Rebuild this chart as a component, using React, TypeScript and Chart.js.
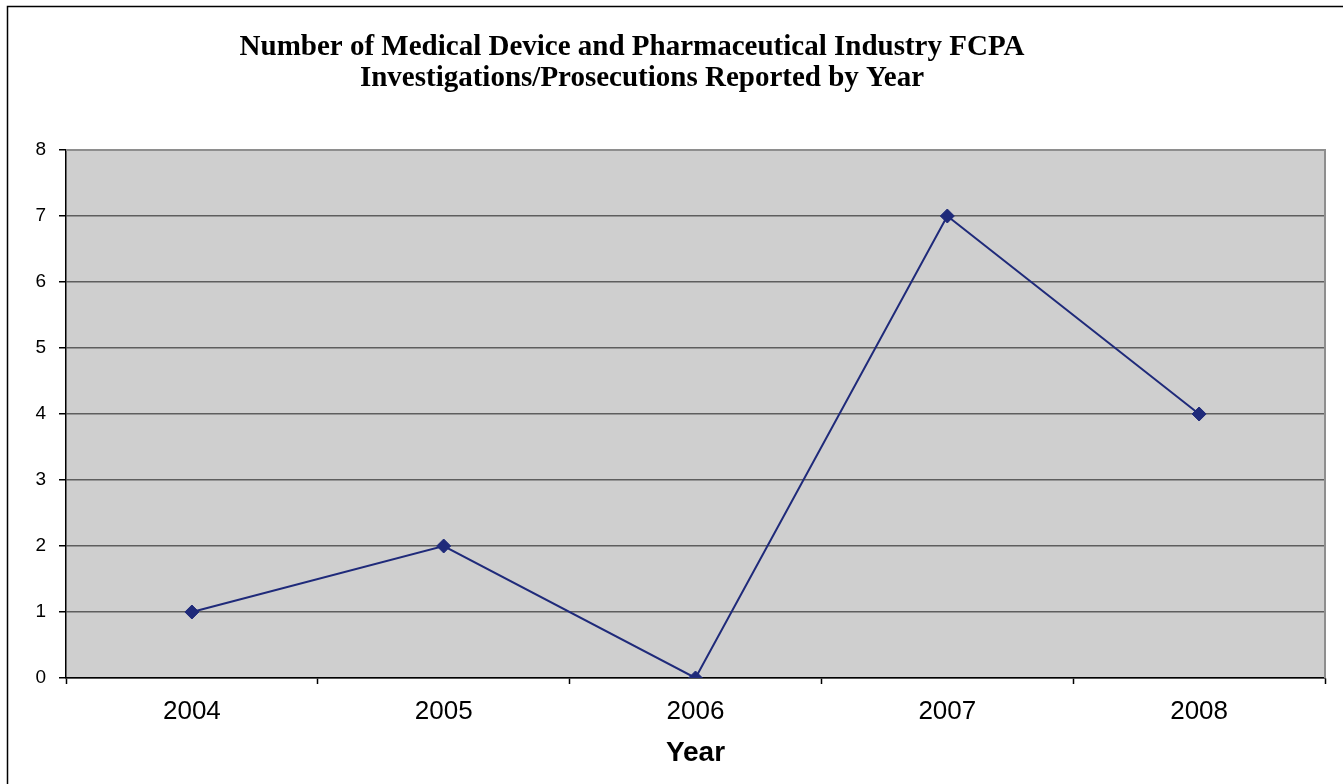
import React, { useEffect, useRef } from 'react';
import { Chart, registerables } from 'chart.js';

Chart.register(...registerables);

const categories: string[] = ['2004', '2005', '2006', '2007', '2008'];
const counts: number[] = [1, 2, 0, 7, 4];
const titleLines: string[] = [
  'Number of Medical Device and Pharmaceutical Industry FCPA',
  'Investigations/Prosecutions Reported by Year',
];
const xAxisTitle = 'Year';
const yMin = 0;
const yMax = 8;
const yStep = 1;

const SANS = '"Liberation Sans", Arial, sans-serif';
const SERIF = '"Liberation Serif", "Times New Roman", serif';

export default function App() {
  const ref = useRef<HTMLCanvasElement>(null);

  useEffect(() => {
    const canvas = ref.current;
    if (!canvas) return;

    const framePlugin = {
      id: 'frame',
      beforeDraw(chart: any) {
        const { ctx, chartArea: a } = chart;
        ctx.save();
        ctx.fillStyle = '#ffffff';
        ctx.fillRect(0, 0, chart.width, chart.height);
        ctx.strokeStyle = '#000000';
        ctx.lineWidth = 1.5;
        ctx.strokeRect(7.5, 6.5, chart.width + 40, chart.height + 40);
        ctx.fillStyle = '#CFCFCF';
        ctx.fillRect(a.left, a.top, a.right - a.left, a.bottom - a.top);
        ctx.restore();
      },
      beforeDatasetsDraw(chart: any) {
        const { ctx, chartArea: a } = chart;
        ctx.save();
        ctx.strokeStyle = '#8E8E8E';
        ctx.lineWidth = 2;
        ctx.beginPath();
        ctx.moveTo(a.left, a.top);
        ctx.lineTo(a.right, a.top);
        ctx.lineTo(a.right, a.bottom);
        ctx.stroke();
        ctx.restore();
      },
      afterDraw(chart: any) {
        const { ctx } = chart;
        ctx.save();
        ctx.fillStyle = '#000000';
        ctx.font = `bold 29px ${SERIF}`;
        ctx.textAlign = 'center';
        ctx.textBaseline = 'alphabetic';
        ctx.fillText(titleLines[0], 632, 55);
        ctx.fillText(titleLines[1], 642, 86);
        ctx.restore();
      },
    };

    const chart = new Chart(canvas, {
      type: 'line',
      data: {
        labels: categories,
        datasets: [
          {
            data: counts,
            borderColor: '#1F2A7A',
            backgroundColor: '#1F2A7A',
            borderWidth: 2,
            tension: 0,
            pointStyle: 'rectRot',
            pointRadius: 7,
            pointBackgroundColor: '#1F2A7A',
            pointBorderColor: '#1F2A7A',
            pointBorderWidth: 1,
            fill: false,
          },
        ],
      },
      options: {
        responsive: false,
        animation: false,
        layout: { padding: { top: 150, right: 18, left: 0, bottom: 0 } },
        plugins: {
          legend: { display: false },
          tooltip: { enabled: false },
          title: { display: false },
        },
        scales: {
          x: {
            type: 'category',
            offset: true,
            grid: {
              offset: true,
              drawOnChartArea: false,
              drawTicks: true,
              tickLength: 6,
              tickColor: '#000000',
              tickWidth: 1.5,
            },
            border: { display: true, color: '#000000', width: 1.5 },
            ticks: {
              color: '#000000',
              font: { family: SANS, size: 26 },
              padding: 12,
              maxRotation: 0,
              autoSkip: false,
            },
            title: {
              display: true,
              text: xAxisTitle,
              color: '#000000',
              font: { family: SANS, size: 28, weight: 'bold' },
              padding: { top: 0, bottom: 14 },
            },
            afterFit(scale: any) {
              scale.height = 106;
            },
          },
          y: {
            min: yMin,
            max: yMax,
            ticks: {
              stepSize: yStep,
              color: '#000000',
              font: { family: SANS, size: 19 },
              padding: 13,
            },
            grid: {
              color: (c: any) => (c.tick && c.tick.value === yMax ? '#8E8E8E' : '#5E5E5E'),
              lineWidth: 1.5,
              drawTicks: true,
              tickLength: 7,
              tickColor: '#000000',
              tickWidth: 1.5,
            },
            border: { display: true, color: '#000000', width: 1.5 },
            afterFit(scale: any) {
              scale.width = 66;
            },
          },
        },
      },
      plugins: [framePlugin],
    });

    return () => {
      chart.destroy();
    };
  }, []);

  return (
    <div style={{ position: 'absolute', left: 0, top: 0, width: 1343, height: 784, overflow: 'hidden' }}>
      <canvas ref={ref} width={1343} height={784} style={{ display: 'block' }} />
    </div>
  );
}
